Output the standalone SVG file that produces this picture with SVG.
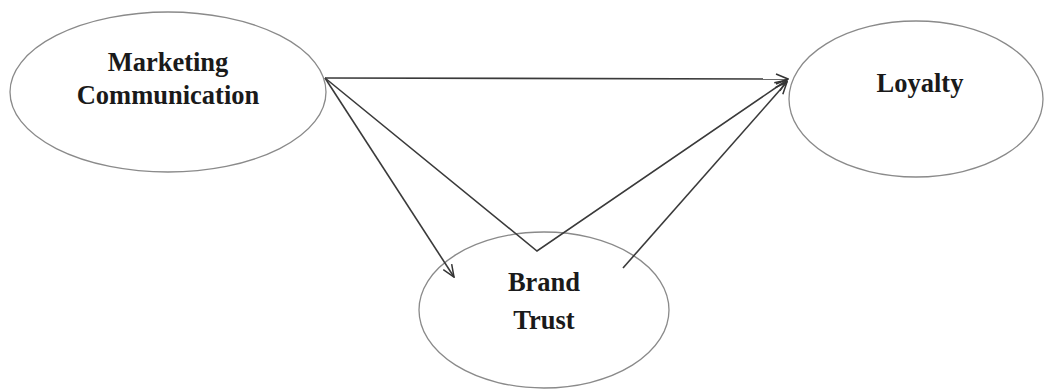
<svg xmlns="http://www.w3.org/2000/svg" width="1044" height="390" viewBox="0 0 1044 390">
<defs>
<marker id="open" viewBox="0 0 14 12" refX="13" refY="6" markerWidth="14" markerHeight="12" markerUnits="userSpaceOnUse" orient="auto">
<path d="M1,1 L13,6 L1,11" fill="none" stroke="#333" stroke-width="1.5"/>
</marker>
</defs>
<style>
.node{fill:#fff;stroke:#8a8a8a;stroke-width:1.3}
.lbl{font-family:"Liberation Serif","Times New Roman",serif;font-weight:bold;font-size:26.5px;fill:#1a1a1a;text-anchor:middle}
.edge{fill:none;stroke:#3a3a3a;stroke-width:1.6;marker-end:url(#open)}
</style>
<rect width="1044" height="390" fill="#fff"/>
<g id="marketing">
<ellipse class="node" cx="168" cy="92" rx="158" ry="80"/>
<text class="lbl" x="168" y="71">Marketing</text>
<text class="lbl" x="168" y="104">Communication</text>
</g>
<g id="loyalty">
<ellipse class="node" cx="916" cy="99" rx="127" ry="78"/>
<text class="lbl" x="920" y="92">Loyalty</text>
</g>
<g id="brandtrust">
<ellipse class="node" cx="544" cy="310" rx="125" ry="78"/>
<text class="lbl" x="544" y="291">Brand</text>
<text class="lbl" x="544" y="329">Trust</text>
</g>
<g id="connectors">
<path class="edge" d="M325,78 L788,79"/>
<path class="edge" d="M325,78 L454,277"/>
<path class="edge" d="M325,78 L537,251 L787,80"/>
<path class="edge" d="M623,268 L787,82"/>
</g>
</svg>
